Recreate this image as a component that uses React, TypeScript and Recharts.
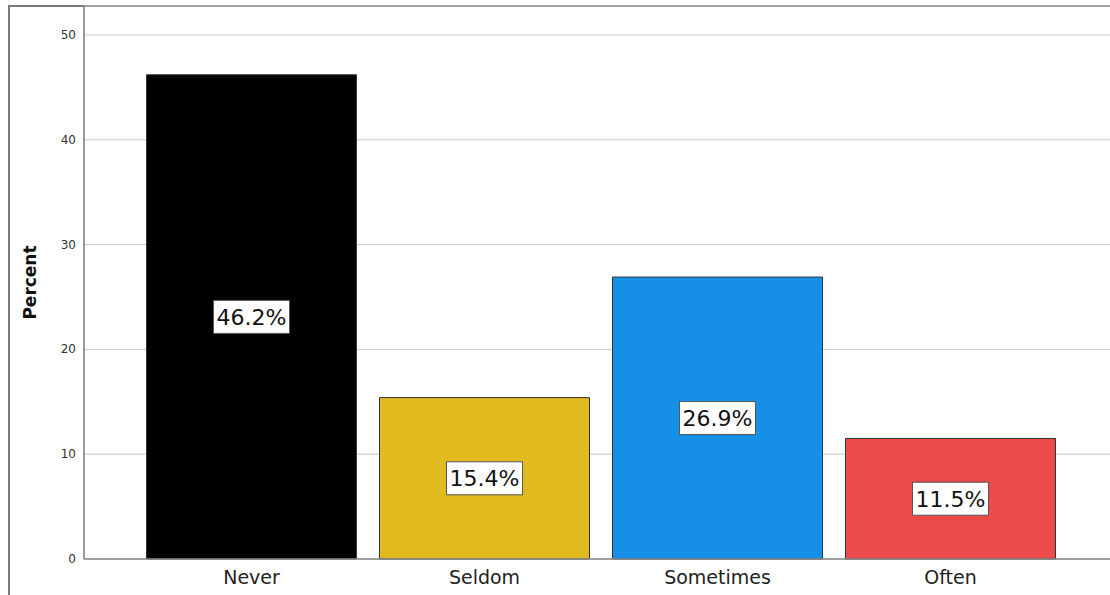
import { BarChart, Bar, XAxis, YAxis, CartesianGrid, Cell, LabelList } from "recharts";

const categories = ["Never", "Seldom", "Sometimes", "Often"];
const percents = [46.2, 15.4, 26.9, 11.5];
const barColors = ["#000000", "#E0BA1F", "#1590E6", "#EC4A4B"];
const yTicks = [0, 10, 20, 30, 40, 50];

const data = categories.map((c, i) => ({ name: c, value: percents[i] }));

const FONT = "'DejaVu Sans', Verdana, sans-serif";

// white boxed value label in the middle of each bar
function ValueLabel(props: any) {
  const { x, y, width, height, value } = props;
  const cx = x + width / 2;
  const cy = y + height / 2;
  const w = 76;
  const h = 33;
  return (
    <g>
      <rect x={cx - w / 2} y={cy - h / 2} width={w} height={h} fill="#fff" stroke="#555" strokeWidth={1} />
      <text x={cx} y={cy + 8} textAnchor="middle" fontSize={22} fontFamily={FONT} fill="#111">
        {`${value.toFixed(1)}%`}
      </text>
    </g>
  );
}

function YTick(props: any) {
  const { x, y, payload } = props;
  return (
    <text x={x} y={y + 4} textAnchor="end" fontSize={12} fontFamily={FONT} fill="#333">
      {payload.value}
    </text>
  );
}

export default function App() {
  return (
    <div style={{ position: "absolute", left: 0, top: 0, width: 1110, height: 595, background: "#fff", overflow: "hidden" }}>
      <div
        style={{
          position: "absolute",
          left: 8,
          top: 5,
          width: 1110,
          height: 600,
          borderLeft: "2px solid #7a7a7a",
          borderTop: "2px solid #7a7a7a",
          boxSizing: "border-box",
        }}
      />
      <BarChart
        width={1110}
        height={595}
        data={data}
        margin={{ top: 6, right: 0, left: 0, bottom: 0 }}
        barCategoryGap={11.5}
        style={{ position: "absolute", left: 0, top: 0 }}
      >
        <CartesianGrid horizontal vertical={false} stroke="#c8c8c8" strokeWidth={1} />
        <XAxis
          dataKey="name"
          height={36}
          padding={{ left: 51, right: 43 }}
          tickLine={false}
          axisLine={{ stroke: "#8a8a8a", strokeWidth: 1.5 }}
          tick={{ fontSize: 19, fontFamily: FONT, fill: "#222" }}
          tickMargin={6}
        />
        <YAxis
          width={84}
          domain={[0, 52.76]}
          ticks={yTicks}
          tickLine={false}
          axisLine={{ stroke: "#7a7a7a", strokeWidth: 1.5 }}
          tick={<YTick />}
          tickMargin={2}
          label={{
            value: "Percent",
            angle: -90,
            position: "insideLeft",
            offset: 30,
            style: { fontSize: 17, fontWeight: "bold", fontFamily: FONT, fill: "#111", textAnchor: "middle" },
          }}
        />
        <Bar dataKey="value" stroke="#333" strokeWidth={1} isAnimationActive={false}>
          {data.map((d, i) => (
            <Cell key={d.name} fill={barColors[i]} />
          ))}
          <LabelList dataKey="value" content={ValueLabel} />
        </Bar>
      </BarChart>
    </div>
  );
}
